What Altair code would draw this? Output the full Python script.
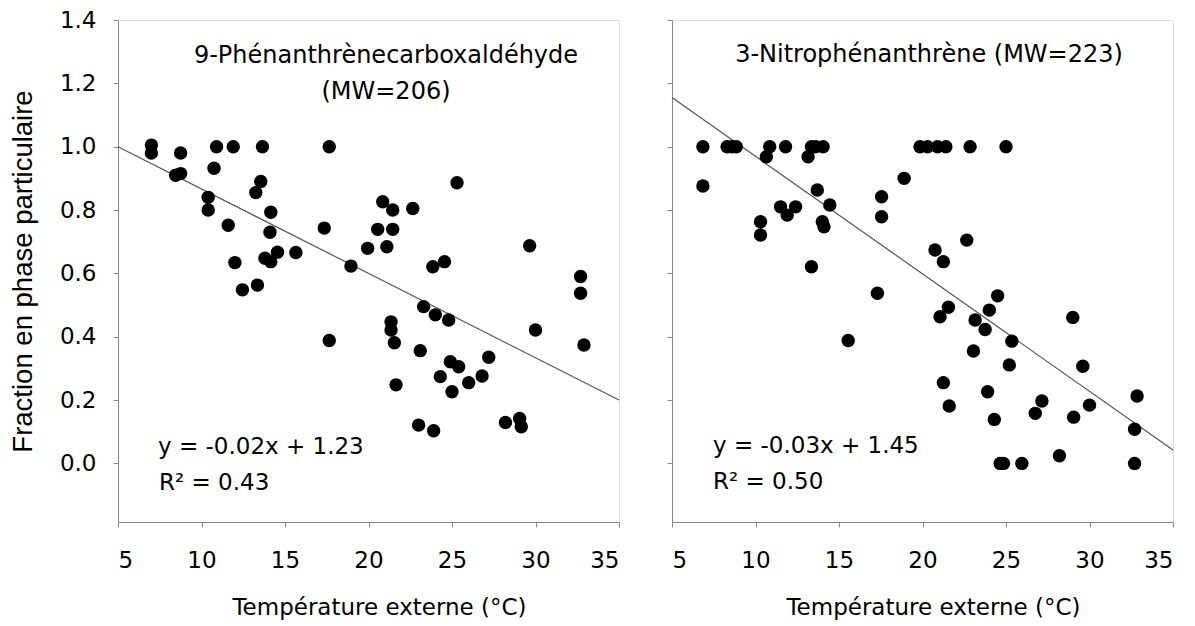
import altair as alt
import pandas as pd

# Left panel: 9-Phénanthrènecarboxaldéhyde
left_x = [7.0, 7.0, 8.75, 8.45, 8.75, 10.9, 11.9, 10.75, 10.4, 10.4, 11.6, 13.65, 13.55, 13.25,
          14.15, 14.1, 13.8, 14.15, 14.55, 15.65, 12.0, 17.65, 17.35, 18.95, 19.95, 20.85, 21.45,
          20.55, 21.45, 21.1, 12.45, 13.35, 21.35, 21.35, 21.55, 21.65, 17.65, 25.3, 22.65, 29.65,
          23.85, 24.55, 32.7, 32.7, 32.9, 30.0, 23.3, 24.0, 24.8, 23.1, 24.9, 25.4, 27.2, 24.3,
          26.0, 26.8, 25.0, 23.0, 23.9, 28.2, 29.05, 29.15]
left_y = [1.005, 0.98, 0.98, 0.91, 0.915, 1.0, 1.0, 0.932, 0.84, 0.80, 0.752, 1.0, 0.89, 0.855,
          0.793, 0.73, 0.648, 0.637, 0.667, 0.666, 0.634, 1.0, 0.743, 0.623, 0.679, 0.826, 0.80,
          0.739, 0.739, 0.684, 0.548, 0.563, 0.447, 0.421, 0.381, 0.248, 0.388, 0.886, 0.805, 0.687,
          0.621, 0.637, 0.59, 0.537, 0.374, 0.421, 0.495, 0.469, 0.453, 0.356, 0.321, 0.305, 0.335, 0.274,
          0.255, 0.276, 0.226, 0.121, 0.103, 0.129, 0.142, 0.116]

# Right panel: 3-Nitrophénanthrène
right_x = [6.85, 6.85, 8.3, 8.6, 8.85, 10.85, 10.65, 11.8, 11.5, 11.9, 12.4, 10.3, 10.3, 13.35,
           13.6, 14.05, 13.15, 13.7, 14.45, 14.0, 14.1, 13.35, 17.55, 17.55, 18.9, 19.85, 20.3,
           20.9, 21.4, 22.85, 25.0, 22.65, 20.75, 21.25, 17.3, 15.55, 24.5, 21.55, 21.05, 24.0,
           23.15, 23.75, 25.35, 23.05, 25.2, 29.0, 29.6, 21.25, 21.6, 23.9, 24.3, 27.15, 26.75,
           29.05, 30.0, 32.85, 32.7, 24.65, 24.85, 25.95, 28.2, 32.7]
right_y = [1.0, 0.876, 1.0, 1.0, 1.0, 1.0, 0.968, 1.0, 0.81, 0.784, 0.81, 0.763, 0.721, 1.0,
           1.0, 1.0, 0.968, 0.863, 0.816, 0.763, 0.747, 0.621, 0.842, 0.779, 0.90, 1.0, 1.0,
           1.0, 1.0, 1.0, 1.0, 0.705, 0.674, 0.637, 0.537, 0.388, 0.529, 0.493, 0.463, 0.484,
           0.453, 0.423, 0.386, 0.355, 0.311, 0.461, 0.307, 0.255, 0.181, 0.226, 0.139, 0.197, 0.158,
           0.146, 0.184, 0.213, 0.108, 0.0, 0.0, 0.0, 0.024, 0.0]

# Regression lines (endpoints as drawn)
left_line_x = [5, 35]
left_line_y = [1.0, 0.2]
right_line_x = [5, 35]
right_line_y = [1.155, 0.042]

left_title = ["9-Phénanthrènecarboxaldéhyde", "(MW=206)"]
right_title = "3-Nitrophénanthrène (MW=223)"
left_eq = ["y = -0.02x + 1.23", "R² = 0.43"]
right_eq = ["y = -0.03x + 1.45", "R² = 0.50"]

x_ticks = [5, 10, 15, 20, 25, 30, 35]
y_ticks = [0.0, 0.2, 0.4, 0.6, 0.8, 1.0, 1.2, 1.4]

W, H = 501, 502
FONT = "DejaVu Sans"
GRAY = "#8a8a8a"


def panel(xs, ys, lx, ly, titles, eqs, show_y_labels):
    pts = pd.DataFrame({"x": xs, "y": ys})
    ln = pd.DataFrame({"x": lx, "y": ly})
    xscale = alt.Scale(domain=[5, 35], nice=False, zero=False)
    yscale = alt.Scale(domain=[-0.185, 1.4], nice=False, zero=False)
    xaxis = alt.Axis(values=x_ticks, title="Température externe (°C)", grid=False,
                     labelFontSize=23, labelFont=FONT, labelPadding=22,
                     titleFont=FONT, titleFontSize=23, titleFontWeight="normal",
                     titleX=261, titleY=85, titleBaseline="middle", titleAlign="center")
    if show_y_labels:
        yaxis = alt.Axis(values=y_ticks, format=".1f", title="Fraction en phase particulaire",
                         grid=False, labelFontSize=23, labelFont=FONT, labelPadding=17,
                         titleFont="Liberation Sans", titleFontSize=27.5, titleFontWeight="normal",
                         titleX=-95, titleY=251, titleAngle=270, titleBaseline="middle",
                         titleAlign="center")
    else:
        yaxis = alt.Axis(values=y_ticks, labels=False, title=None, grid=False)

    base_pts = alt.Chart(pts).mark_circle(size=180, color="black", opacity=1).encode(
        x=alt.X("x:Q", scale=xscale, axis=xaxis),
        y=alt.Y("y:Q", scale=yscale, axis=yaxis),
    )
    line = alt.Chart(ln).mark_line(color="#555555", strokeWidth=1.2).encode(
        x=alt.X("x:Q", scale=xscale), y=alt.Y("y:Q", scale=yscale)
    )
    layers = [line, base_pts]
    for (t, px, py) in titles:
        layers.append(alt.Chart(pd.DataFrame({"t": [t]})).mark_text(
            x=px, y=py, font=FONT, fontSize=24, align="center", baseline="alphabetic",
            color="black").encode(text="t:N"))
    for (t, px, py) in eqs:
        layers.append(alt.Chart(pd.DataFrame({"t": [t]})).mark_text(
            x=px, y=py, font=FONT, fontSize=23, align="left", baseline="alphabetic",
            color="black").encode(text="t:N"))
    return alt.layer(*layers).properties(width=W, height=H)


left = panel(left_x, left_y, left_line_x, left_line_y,
             [(left_title[0], 268, 43), (left_title[1], 268, 79)],
             [(left_eq[0], 40, 434), (left_eq[1], 41, 470)], True)
right = panel(right_x, right_y, right_line_x, right_line_y,
              [(right_title, 257, 42)],
              [(right_eq[0], 41, 433), (right_eq[1], 41, 469)], False)

chart = alt.hconcat(left, right, spacing=53, bounds="flush").properties(
    padding={"left": 0, "top": 0, "right": 5, "bottom": 5}
).configure_view(
    stroke=GRAY, strokeWidth=1.5
).configure_axis(
    domainColor=GRAY, domainWidth=1.5, tickColor=GRAY, tickWidth=1.5, tickSize=9,
    labelColor="black", titleColor="black"
).configure(background="white")

chart.save("out.html", embed_options={"renderer": "svg", "actions": False})
